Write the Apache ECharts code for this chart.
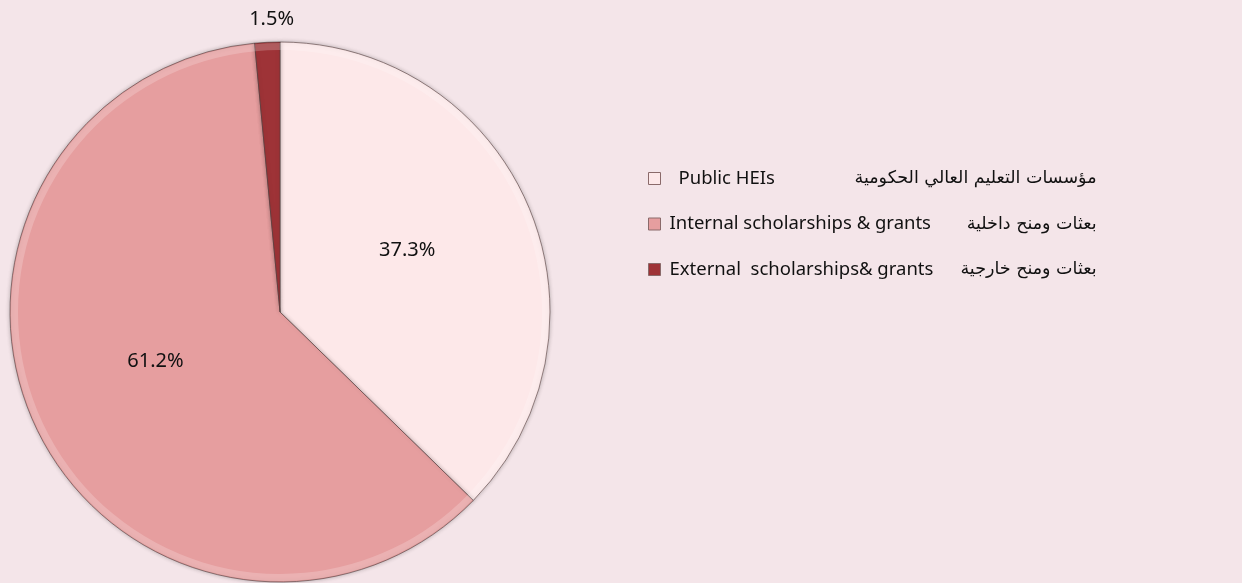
<!DOCTYPE html>
<html>
<head>
<meta charset="utf-8">
<script src="https://cdn.jsdelivr.net/npm/echarts@6/dist/echarts.min.js"></script>
<style>
  html, body { margin: 0; padding: 0; background: #f4e5e9; }
  #main { width: 1242px; height: 583px; }
</style>
</head>
<body>
<div id="main"></div>
<script>
var myChart = echarts.init(document.getElementById('main'));

var names = ['Public HEIs', 'Internal scholarships & grants', 'External  scholarships& grants'];
var arabic = ['مؤسسات التعليم العالي الحكومية', 'بعثات ومنح داخلية', 'بعثات ومنح خارجية'];
var values = [37.3, 61.2, 1.5];
var colors = ['#fde8e9', '#e69e9f', '#9e3337'];

var pieData = [];
var rimData = [];
for (var i = 0; i < names.length; i++) {
    pieData.push({name: names[i], value: values[i]});
    rimData.push({name: names[i], value: values[i]});
}
// the small slice gets its label on the outside
pieData[2].label = {position: 'outside', distance: 4};
pieData[2].labelLine = {show: false, length: 6, length2: 0};

var enStyle = {fontFamily: 'Noto Sans', fontSize: 18.5, lineHeight: 20, color: '#111'};
var arStyle = {fontFamily: 'DejaVu Sans', fontSize: 17.5, lineHeight: 20, color: '#111', align: 'right'};

option = {
    backgroundColor: '#f4e5e9',
    color: colors,
    legend: {
        orient: 'vertical',
        left: 643,
        top: 164,
        itemWidth: 12,
        itemHeight: 12,
        itemGap: 26.5,
        icon: 'rect',
        itemStyle: {borderColor: '#8a6a6a', borderWidth: 1},
        textStyle: {
            rich: {
                en0: Object.assign({width: 130, padding: [0, 0, 0, 13]}, enStyle),
                ar0: Object.assign({width: 288}, arStyle),
                en1: Object.assign({width: 297, padding: [0, 0, 0, 4]}, enStyle),
                ar1: Object.assign({width: 130}, arStyle),
                en2: Object.assign({width: 297, padding: [0, 0, 0, 4]}, enStyle),
                ar2: Object.assign({width: 130}, arStyle)
            }
        },
        formatter: function (name) {
            var k = names.indexOf(name);
            return '{en' + k + '|' + name + '}{ar' + k + '|' + arabic[k] + '}';
        },
        data: names
    },
    series: [
        {
            type: 'pie',
            center: [280, 312],
            radius: 270,
            startAngle: 90,
            clockwise: true,
            avoidLabelOverlap: false,
            data: pieData,
            label: {
                show: true,
                position: 'inside',
                formatter: function (p) { return p.value.toFixed(1) + '%'; },
                fontFamily: 'Noto Sans',
                fontSize: 20,
                color: '#111'
            },
            labelLayout: function (params) {
                if (params.dataIndex === 2) {
                    return {dx: 32, dy: -17};
                }
                if (params.dataIndex === 1) {
                    return {dy: -10};
                }
                return {dy: -8};
            },
            itemStyle: {
                borderColor: 'rgba(80,60,60,0.6)',
                borderWidth: 1,
                shadowBlur: 4,
                shadowColor: 'rgba(0,0,0,0.25)'
            },
            emphasis: {scale: false}
        },
        {
            // faint bevel band along the rim
            type: 'pie',
            center: [280, 312],
            radius: [262, 269],
            startAngle: 90,
            clockwise: true,
            silent: true,
            label: {show: false},
            labelLine: {show: false},
            data: rimData,
            itemStyle: {color: 'rgba(255,255,255,0.2)', borderWidth: 0}
        }
    ]
};

myChart.setOption(option);
</script>
</body>
</html>
